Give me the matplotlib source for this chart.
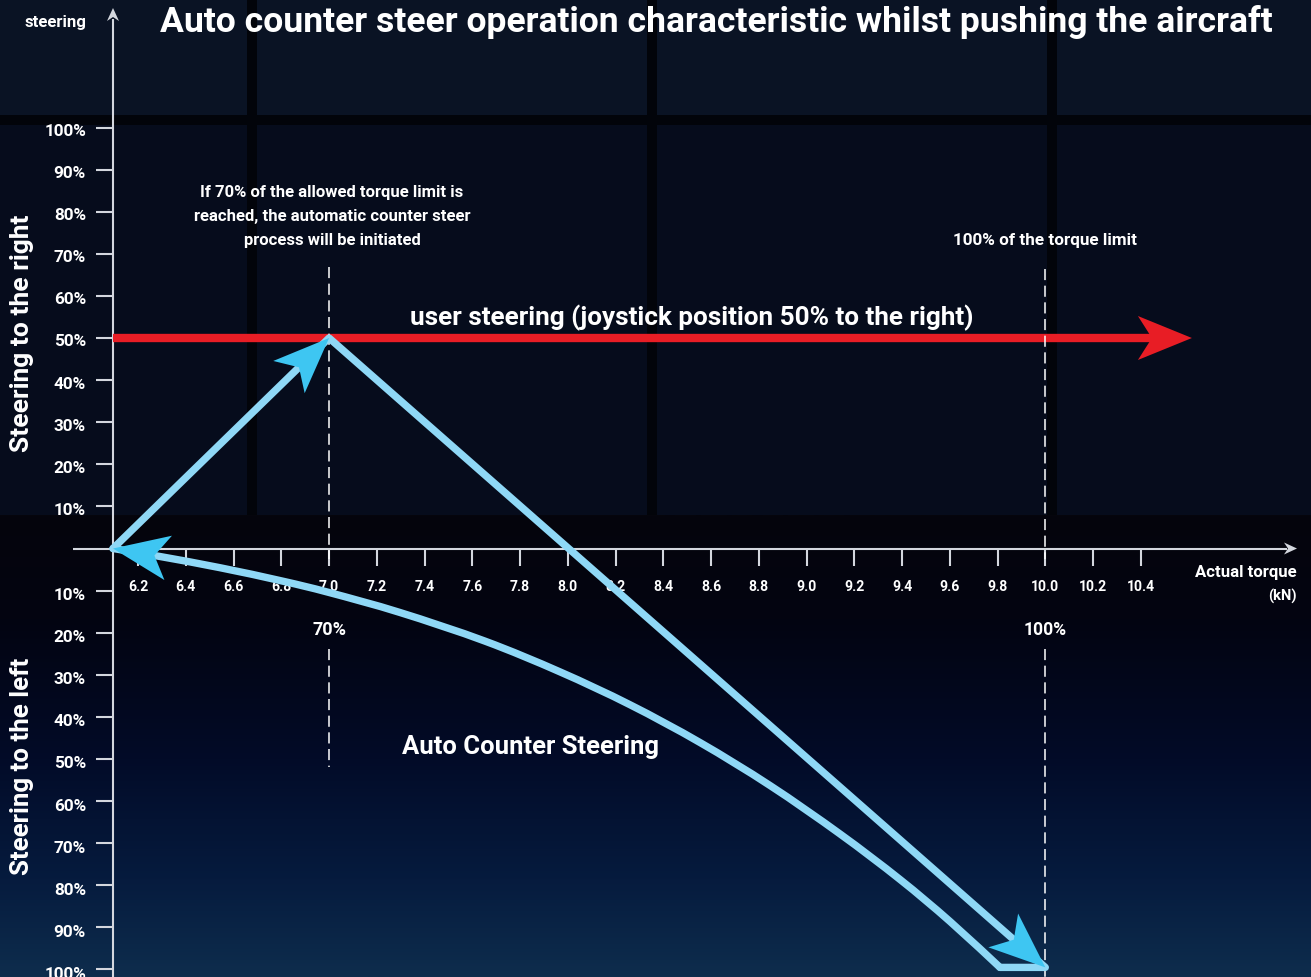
import matplotlib
matplotlib.use("Agg")
import matplotlib.pyplot as plt
import numpy as np
from matplotlib.patches import Polygon, Rectangle, PathPatch
from matplotlib.path import Path
from matplotlib.transforms import Affine2D

plt.rcParams['lines.scale_dashes'] = False

# ---------------- data ----------------
title = "Auto counter steer operation characteristic whilst pushing the aircraft"
x_tick_values = [6.2, 6.4, 6.6, 6.8, 7.0, 7.2, 7.4, 7.6, 7.8, 8.0, 8.2,
                 8.4, 8.6, 8.8, 9.0, 9.2, 9.4, 9.6, 9.8, 10.0, 10.2, 10.4]
x_tick_labels = [f"{v:.1f}" for v in x_tick_values]
y_tick_values = [10, 20, 30, 40, 50, 60, 70, 80, 90, 100]
y_tick_labels = [f"{v}%" for v in y_tick_values]

origin_torque = 6.095
user_steering_pct = 50
user_arrow_end = 10.614
trigger_torque = 7.0
limit_torque = 10.0

ramp_torque = [origin_torque, 7.0]
ramp_pct = [0, 50]
counter_torque = [7.0, 10.0]
counter_pct = [50, -99.5]
bottom_torque = [10.0, 9.81]
bottom_pct = [-99.5, -99.5]
return_torque = [9.81, 9.601, 9.391, 9.14, 8.847, 8.554, 8.26, 7.967, 7.653, 7.297,
                 7.0, 6.803, 6.543, 6.292, origin_torque]
return_pct = [-99.5, -88.6, -78.6, -67.8, -56.3, -46.1, -37.1, -29.3, -22.0, -15.2,
              -10.45, -7.72, -4.56, -1.9, 0]

# ---------------- layout ----------------
W, H, DPI = 1311, 978, 100
OX, OY = 113.0, 549.5      # pixel of the axes origin
SX, SY = 238.75, 4.21      # px per kN, px per %
FAM = ['Liberation Sans Narrow', 'Roboto', 'DejaVu Sans']
WHITE = '#ffffff'
AXC = '#d4d7de'
RED = '#e81d25'
LBLUE = '#8fd8f6'
HEAD = '#3ec6f2'

fig = plt.figure(figsize=(W / DPI, H / DPI), dpi=DPI)
R = fig.canvas.get_renderer()

# background axes in pixel coords
bg = fig.add_axes([0, 0, 1, 1], zorder=-1)
bg.set_xlim(0, W); bg.set_ylim(H, 0); bg.axis('off')
bg.add_patch(Rectangle((0, 0), W, 516, fc=(2/255, 4/255, 10/255), ec='none'))
rows = [((0, 116), (10/255, 19/255, 36/255)), ((126, 516), (6/255, 12/255, 28/255))]
cols = [(0, 247), (257, 647), (657, 1047), (1057, W)]
for (r0, r1), c in rows:
    for c0, c1 in cols:
        bg.add_patch(Rectangle((c0, r0), c1 - c0, r1 - r0, fc=c, ec='none'))
stops_y = np.array([516, 620, 760, 880, 978])
stops_c = np.array([(5, 5, 12), (3, 4, 17), (2, 11, 40), (6, 27, 62), (14, 45, 77)]) / 255
yy = np.linspace(516, 978, 400)
grad = np.stack([np.interp(yy, stops_y, stops_c[:, k]) for k in range(3)], axis=-1)[:, None, :]
bg.imshow(grad, extent=(0, W, 978, 516), aspect='auto', interpolation='bilinear')

# main axes in data coords
ax = fig.add_axes([0, 0, 1, 1])
ax.patch.set_alpha(0)
ax.axis('off')
ax.set_xlim(origin_torque - OX / SX, origin_torque + (W - OX) / SX)
ax.set_ylim((OY - H) / SY, OY / SY)

pix = Affine2D().scale(1.0 / W, -1.0 / H).translate(0, 1) + fig.transFigure


def d2p_x(x):
    return OX + (x - origin_torque) * SX


def arrowhead(tip, frm, L, N, Wd, color, z):
    T = ax.transData
    t = T.transform(tip); f = T.transform(frm)
    u = (t - f); u = u / np.hypot(*u)
    v = np.array([-u[1], u[0]])
    pts = np.array([t, t - L * u + Wd / 2 * v, t - N * u, t - L * u - Wd / 2 * v])
    ax.add_patch(Polygon(T.inverted().transform(pts), closed=True, fc=color, ec='none', zorder=z))


def txt(px, py, s, target_w=None, size=12, ha='center', va='center', rot=0, z=6):
    dy = 0 if rot else 2
    t = ax.text(px, py + dy, s, transform=pix, ha=ha, va=va, rotation=rot, fontsize=size,
                fontweight='bold', family=FAM, color=WHITE, zorder=z, clip_on=False)
    if target_w:
        bb = t.get_window_extent(renderer=R)
        w = bb.height if rot else bb.width
        t.set_fontsize(size * target_w / w)
    return t


def smooth_path(xs, ys):
    P = np.column_stack([xs, ys])
    verts = [P[0]]; codes = [Path.MOVETO]
    n = len(P)
    for i in range(n - 1):
        p0 = P[i - 1] if i > 0 else P[i]
        p1, p2 = P[i], P[i + 1]
        p3 = P[i + 2] if i + 2 < n else P[i + 1]
        verts += [p1 + (p2 - p0) / 6, p2 - (p3 - p1) / 6, p2]
        codes += [Path.CURVE4] * 3
    return Path(verts, codes)


ymin, ymax = ax.get_ylim()
# axes lines
ax.plot([origin_torque, origin_torque], [ymin, (OY - 20) / SY], color=AXC, lw=1.5, zorder=3, solid_capstyle='butt')
arrowhead((origin_torque, (OY - 9) / SY), (origin_torque, 0), 13, 9, 12, AXC, 3)
x_left = origin_torque - 40 / SX
x_right = origin_torque + (1297 - OX) / SX
ax.plot([x_left, x_right - 10 / SX], [0, 0], color=AXC, lw=1.5, zorder=3, solid_capstyle='butt')
arrowhead((x_right, 0), (origin_torque, 0), 13, 9, 12, AXC, 3)

# ticks
for v in y_tick_values:
    for s in (1, -1):
        ax.plot([origin_torque - 17 / SX, origin_torque], [s * v, s * v], color=AXC, lw=1.5, zorder=3, solid_capstyle='butt')
for x in x_tick_values:
    ax.plot([x, x], [0, -17 / SY], color=AXC, lw=1.5, zorder=3, solid_capstyle='butt')

# tick labels
ref = txt(86, OY - 100 * SY, '100%', target_w=42, ha='right')
ysize = ref.get_fontsize()
ref.remove()
for v, lab in zip(y_tick_values, y_tick_labels):
    txt(86, OY - v * SY + 1, lab, size=ysize, ha='right', z=2)
    txt(86, OY + v * SY + 2, lab, size=ysize, ha='right', z=2)
ref = txt(0, 0, '10.0', target_w=28)
xsize = ref.get_fontsize()
ref.remove()
for x, lab in zip(x_tick_values, x_tick_labels):
    txt(d2p_x(x), 585, lab, size=xsize, z=2)

# dashed guide lines
for x, segs in ((trigger_torque, [(268, 560), (650, 768)]), (limit_torque, [(270, 560), (650, 978)])):
    for p0, p1 in segs:
        ax.plot([x, x], [(OY - p0) / SY, (OY - p1) / SY], color=WHITE, lw=1.1,
                dashes=(8, 4), zorder=4)

# user steering red arrow
ax.plot([origin_torque, user_arrow_end - 40 / SX], [user_steering_pct, user_steering_pct],
        color=RED, lw=6, solid_capstyle='butt', zorder=3)
arrowhead((user_arrow_end, user_steering_pct), (origin_torque, user_steering_pct), 54, 40, 44, RED, 3)

# auto counter steer cycle
LW = 5.3
ax.plot(ramp_torque + counter_torque[1:] + bottom_torque[1:], ramp_pct + counter_pct[1:] + bottom_pct[1:],
        color=LBLUE, lw=LW, solid_joinstyle='round', solid_capstyle='round', zorder=5)
ax.add_patch(PathPatch(smooth_path(return_torque, return_pct), fill=False, ec=LBLUE, lw=LW,
                       joinstyle='round', capstyle='round', zorder=5))
arrowhead((ramp_torque[1], ramp_pct[1]), (ramp_torque[0], ramp_pct[0]), 56, 42, 45, HEAD, 6)
arrowhead((counter_torque[1], counter_pct[1]), (counter_torque[0], counter_pct[0]), 56, 42, 45, HEAD, 6)
arrowhead((return_torque[-1], return_pct[-1]), (return_torque[-2], return_pct[-2]), 56, 42, 45, HEAD, 6)

# texts
txt(716, 20, title, target_w=1112, size=24)
txt(86, 21, 'steering', target_w=62, size=11, ha='right')
txt(22, 333, 'Steering to the right', target_w=237, size=16, rot=90)
txt(22, 766, 'Steering to the left', target_w=218, size=16, rot=90)
txt(1297, 571, 'Actual torque', target_w=102, size=11, ha='right')
txt(1297, 594, '(kN)', size=xsize * 1.05, ha='right')
txt(d2p_x(trigger_torque), 628, '70%', target_w=34, size=11)
txt(d2p_x(limit_torque), 628, '100%', target_w=43, size=11)
t2 = txt(332, 215, 'reached, the automatic counter steer', target_w=276, size=12)
asz = t2.get_fontsize()
txt(332, 191, 'If 70% of the allowed torque limit is', size=asz)
txt(332, 239, 'process will be initiated', size=asz)
txt(1045, 239, '100% of the torque limit', target_w=184, size=12)
txt(692, 316, 'user steering (joystick position 50% to the right)', target_w=565, size=18)
txt(531, 745, 'Auto Counter Steering', target_w=257, size=18)

fig.savefig('out.png', dpi=DPI)
